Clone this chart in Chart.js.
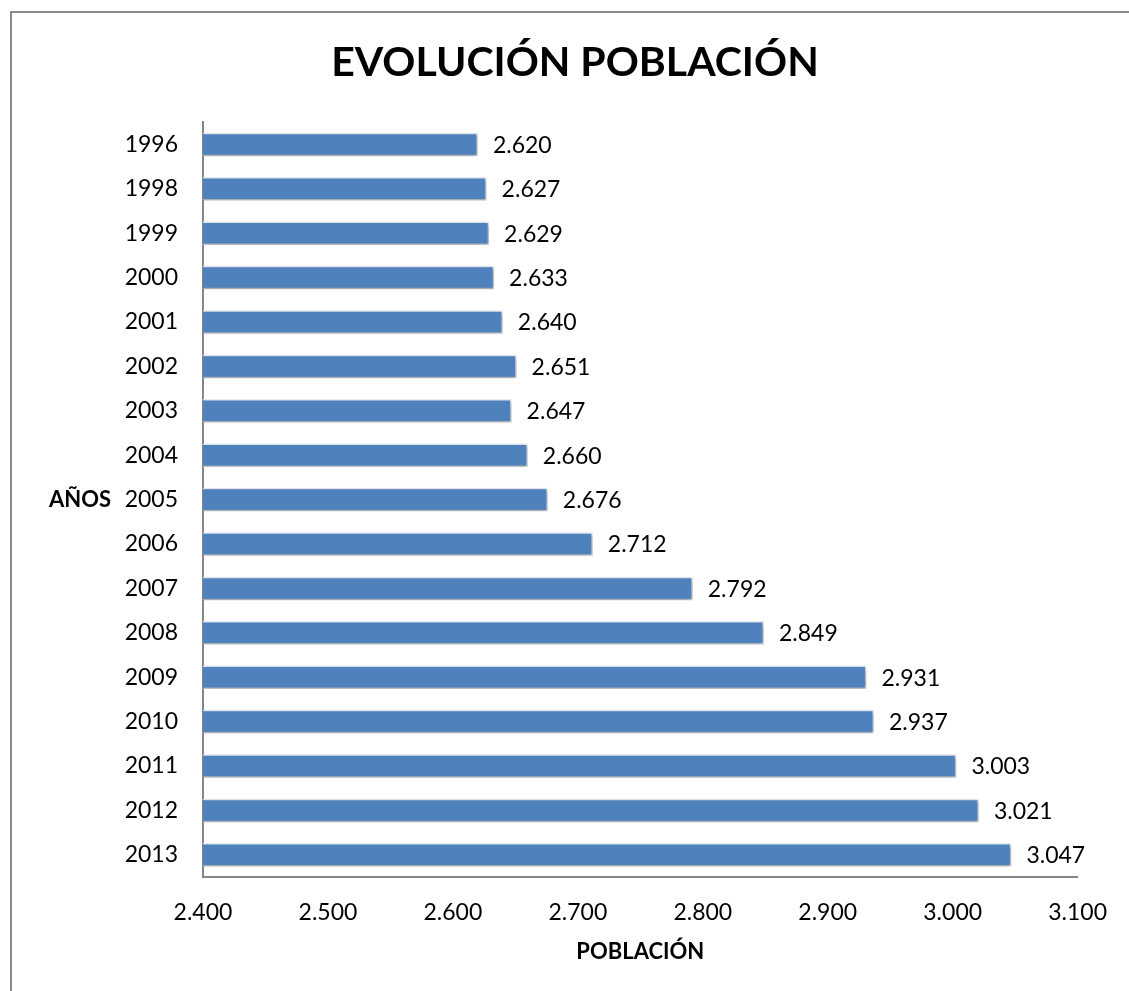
<!DOCTYPE html>
<html>
<head>
<meta charset="utf-8">
<title>Evolución población</title>
<script src="https://cdn.jsdelivr.net/npm/chart.js@4"></script>
<style>
  body { margin: 0; background: #fff; }
  canvas { display: block; }
</style>
</head>
<body>
<canvas id="poblacionChart" width="1129" height="991"></canvas>
<script>
const years = ['1996', '1998', '1999', '2000', '2001', '2002', '2003', '2004', '2005',
               '2006', '2007', '2008', '2009', '2010', '2011', '2012', '2013'];
const population = [2620, 2627, 2629, 2633, 2640, 2651, 2647, 2660, 2676,
                    2712, 2792, 2849, 2931, 2937, 3003, 3021, 3047];
const axisMin = 2400;
const axisMax = 3100;
const axisStep = 100;

const FONT = 'Lato, "Open Sans", sans-serif';
const AXIS_GREY = '#868686';

// 2620 -> "2.620"
function formatMiles(v) {
    const s = String(Math.round(v));
    return s.replace(/\B(?=(\d{3})+(?!\d))/g, '.');
}

// grey frame around the whole chart
const framePlugin = {
    id: 'frame',
    beforeDraw(chart) {
        const ctx = chart.ctx;
        ctx.save();
        ctx.strokeStyle = '#8a8a8a';
        ctx.lineWidth = 2;
        ctx.strokeRect(11, 12, 1400, 1400);
        ctx.restore();
    }
};

// soft drop shadow under the bars
const shadowPlugin = {
    id: 'barShadow',
    beforeDatasetsDraw(chart) {
        const ctx = chart.ctx;
        ctx.save();
        ctx.shadowColor = 'rgba(0, 0, 0, 0.35)';
        ctx.shadowBlur = 4;
        ctx.shadowOffsetX = 1;
        ctx.shadowOffsetY = 2;
    },
    afterDatasetsDraw(chart) {
        chart.ctx.restore();
    }
};

// value labels at the end of each bar
const valueLabels = {
    id: 'valueLabels',
    afterDatasetsDraw(chart) {
        const ctx = chart.ctx;
        const meta = chart.getDatasetMeta(0);
        ctx.save();
        ctx.font = '23px ' + FONT;
        ctx.fillStyle = '#000';
        ctx.textAlign = 'left';
        ctx.textBaseline = 'middle';
        meta.data.forEach((bar, i) => {
            ctx.fillText(formatMiles(population[i]), bar.x + 15, bar.y + 1);
        });
        ctx.restore();
    }
};

// horizontal "AÑOS" title left of the year labels
const yTitle = {
    id: 'yTitle',
    afterDraw(chart) {
        const ctx = chart.ctx;
        const area = chart.chartArea;
        ctx.save();
        ctx.font = 'bold 22px ' + FONT;
        ctx.fillStyle = '#000';
        ctx.textAlign = 'center';
        ctx.textBaseline = 'middle';
        ctx.fillText('AÑOS', 80, (area.top + area.bottom) / 2);
        ctx.restore();
    }
};

const ctx = document.getElementById('poblacionChart').getContext('2d');
const chart = new Chart(ctx, {
    type: 'bar',
    data: {
        labels: years,
        datasets: [{
            label: 'Población',
            data: population,
            backgroundColor: '#4f81bd',
            borderColor: '#e4ecf6',
            borderWidth: 1.5,
            borderSkipped: false,
            barPercentage: 0.53,
            categoryPercentage: 1
        }]
    },
    options: {
        indexAxis: 'y',
        responsive: false,
        animation: false,
        layout: { padding: { left: 69, right: 48, top: 0, bottom: 0 } },
        plugins: {
            legend: { display: false },
            tooltip: { enabled: false },
            title: {
                display: true,
                text: 'EVOLUCIÓN POBLACIÓN',
                color: '#000',
                font: { family: FONT, size: 41, weight: 'bold' },
                padding: { top: 38, bottom: 35 }
            }
        },
        scales: {
            x: {
                min: axisMin,
                max: axisMax,
                grid: { display: false, drawTicks: false },
                border: { display: true, color: AXIS_GREY, width: 2 },
                ticks: {
                    stepSize: axisStep,
                    color: '#000',
                    padding: 22,
                    font: { family: FONT, size: 23 },
                    callback: v => formatMiles(v)
                },
                title: {
                    display: true,
                    text: 'POBLACIÓN',
                    color: '#000',
                    font: { family: FONT, size: 22, weight: 'bold' },
                    padding: { top: 0, bottom: 26 }
                },
                afterFit: s => { s.height = 114; }
            },
            y: {
                grid: { display: false, drawTicks: false },
                border: { display: true, color: AXIS_GREY, width: 2 },
                ticks: {
                    color: '#000',
                    padding: 25,
                    font: { family: FONT, size: 23 }
                },
                afterFit: s => { s.width = 134; }
            }
        }
    },
    plugins: [framePlugin, shadowPlugin, valueLabels, yTitle]
});
</script>
</body>
</html>
